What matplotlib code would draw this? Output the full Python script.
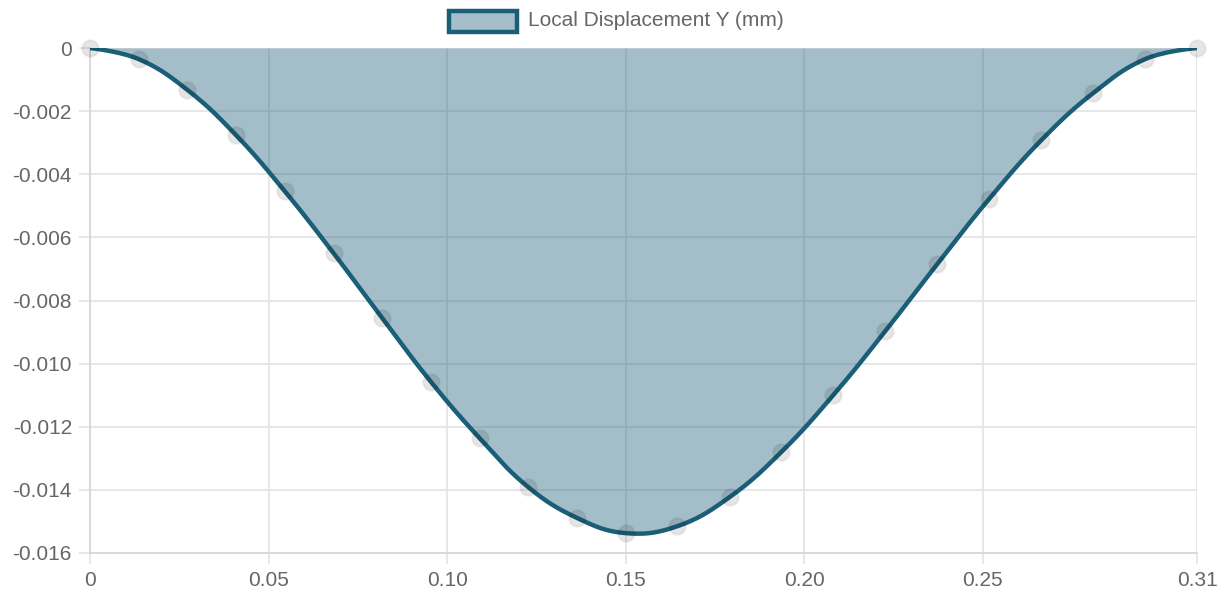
import numpy as np
import matplotlib
matplotlib.use("Agg")
import matplotlib.pyplot as plt
from matplotlib.patches import Rectangle

plt.rcParams['font.family'] = ['Liberation Sans', 'DejaVu Sans']

# Data
x_left = [0, 0.0136, 0.0273, 0.0409, 0.0545, 0.0682, 0.0818, 0.0955, 0.1091, 0.1227, 0.1364, 0.15]
x_right = [0.1645, 0.1791, 0.1936, 0.2082, 0.2227, 0.2373, 0.2518, 0.2664, 0.2809, 0.2955, 0.31]
x_vals = x_left + x_right
y_vals = [0, -0.00035, -0.00133, -0.00276, -0.00453, -0.00650, -0.00855, -0.01058, -0.01236,
          -0.01391, -0.01489, -0.01537, -0.01515, -0.01423, -0.01280, -0.01099, -0.00897,
          -0.00684, -0.00478, -0.00292, -0.00143, -0.00035, 0]
x_ticks = [0, 0.05, 0.10, 0.15, 0.20, 0.25, 0.31]
x_tick_labels = ["0", "0.05", "0.10", "0.15", "0.20", "0.25", "0.31"]
y_ticks = [0, -0.002, -0.004, -0.006, -0.008, -0.010, -0.012, -0.014, -0.016]
y_tick_labels = ["0", "-0.002", "-0.004", "-0.006", "-0.008", "-0.010", "-0.012", "-0.014", "-0.016"]
label = "Local Displacement Y (mm)"

LINE = "#1b5e78"
GRID = "#e3e3e3"
TXT = "#666666"

fig = plt.figure(figsize=(12.29, 6.01), dpi=100)
ax = fig.add_axes([90/1229, 1-553/601, (1197-90)/1229, (553-48)/601])
ax.set_xlim(0, 0.31)
ax.set_ylim(-0.016, 0)

# Chart.js-like bezier smoothing (tension 0.4) in pixel space
sx, sy = 1107/0.31, 505/0.016
P = np.column_stack([np.array(x_vals)*sx, np.array(y_vals)*sy])
n = len(P)
cp_prev = P.copy(); cp_next = P.copy()
t = 0.4
for i in range(1, n-1):
    p0, p1, p2 = P[i-1], P[i], P[i+1]
    d01 = np.hypot(*(p1-p0)); d12 = np.hypot(*(p2-p1))
    s01 = d01/(d01+d12); s12 = d12/(d01+d12)
    cp_prev[i] = p1 - t*s01*(p2-p0)
    cp_next[i] = p1 + t*s12*(p2-p0)
curve = []
tt = np.linspace(0, 1, 30)[:, None]
for i in range(n-1):
    a, b, c, d = P[i], cp_next[i], cp_prev[i+1], P[i+1]
    seg = (1-tt)**3*a + 3*(1-tt)**2*tt*b + 3*(1-tt)*tt**2*c + tt**3*d
    curve.append(seg if i == 0 else seg[1:])
curve = np.vstack(curve)
cx, cy = curve[:, 0]/sx, curve[:, 1]/sy

ax.fill_between(cx, cy, 0, color=LINE, alpha=0.4, linewidth=0, zorder=2)
ax.plot(cx, cy, color=LINE, linewidth=3.2, zorder=3, solid_capstyle="round")
ax.plot(x_vals, y_vals, linestyle="none", marker="o", markersize=12,
        markerfacecolor=(0, 0, 0, 0.1), markeredgecolor=(0, 0, 0, 0.05),
        markeredgewidth=1.5, zorder=4, clip_on=False)

ax.set_xticks(x_ticks)
ax.set_xticklabels(x_tick_labels)
ax.set_yticks(y_ticks)
ax.set_yticklabels(y_tick_labels)
ax.grid(True, color=GRID, linewidth=1.2, zorder=0)
ax.set_axisbelow(True)
for s in ["top", "right"]:
    ax.spines[s].set_visible(False)
for s in ["left", "bottom"]:
    ax.spines[s].set_color("#d6d6d6")
    ax.spines[s].set_linewidth(1.2)
ax.tick_params(axis="both", colors=GRID, length=8, width=1.2, labelcolor=TXT, labelsize=15)
ax.tick_params(axis="x", pad=5)
ax.tick_params(axis="y", pad=5)

# Legend
fig.patches.append(Rectangle((449/1229, 1-32/601), 68/1229, 21/601, transform=fig.transFigure,
                             facecolor="#a4bfc9", edgecolor=LINE, linewidth=3.2))
fig.text(528/1229, 1-21/601, label, color=TXT, fontsize=15, va="center", ha="left")

fig.savefig("out.png", dpi=100)
